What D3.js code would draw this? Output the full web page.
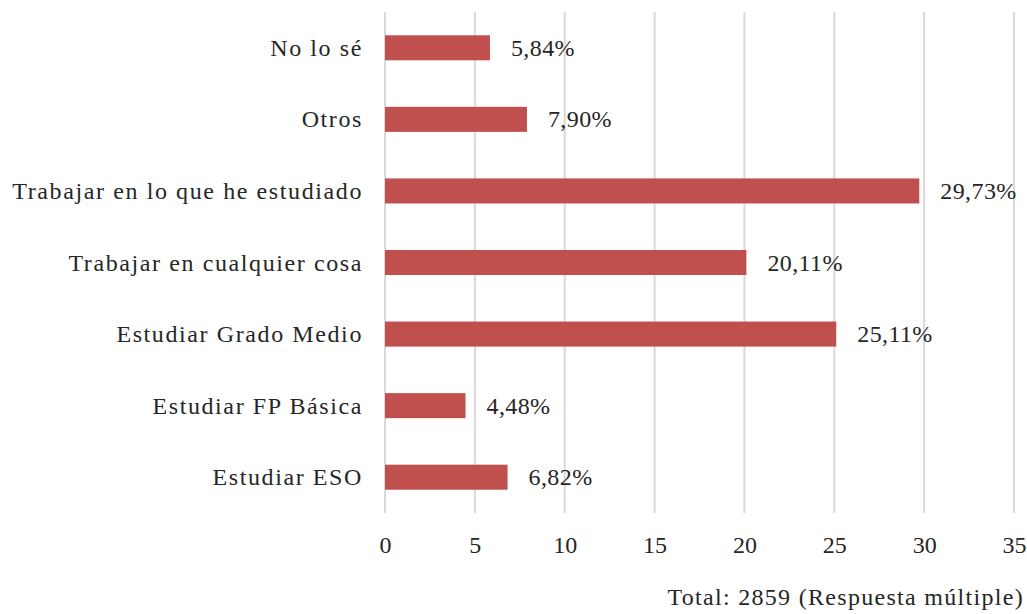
<!DOCTYPE html>
<html>
<head>
<meta charset="utf-8">
<script src="https://cdn.jsdelivr.net/npm/d3@7"></script>
<style>
  html, body { margin: 0; padding: 0; background: #fff; }
  svg { display: block; }
</style>
</head>
<body>
<svg id="chart" width="1027" height="614"></svg>
<script>
// Categories listed top to bottom
const categories = [
  "No lo sé",
  "Otros",
  "Trabajar en lo que he estudiado",
  "Trabajar en cualquier cosa",
  "Estudiar Grado Medio",
  "Estudiar FP Básica",
  "Estudiar ESO"
];
const values = [5.84, 7.90, 29.73, 20.11, 25.11, 4.48, 6.82];
const tickValues = [0, 5, 10, 15, 20, 25, 30, 35];
const footnote = "Total: 2859 (Respuesta múltiple)";

const FONT = "'Liberation Serif', 'DejaVu Serif', serif";
const FS = "24px";
const INK = "#262626";

const svg = d3.select("#chart");
const W = 1027;
const plot = { left: 385, right: 1014, top: 12, bottom: 513 };

const x = d3.scaleLinear().domain([0, 35]).range([plot.left, plot.right]);
const y = d3.scaleBand().domain(categories).range([plot.top, plot.bottom]).paddingInner(0.65).paddingOuter(0.325);

const fmt = v => v.toFixed(2).replace(".", ",") + "%";
const styleText = (sel, spacing = 0) => sel
  .attr("font-family", FONT)
  .style("font-family", FONT)
  .style("font-size", FS)
  .style("letter-spacing", spacing + "px")
  .style("fill", INK);

// vertical gridlines
svg.append("g")
  .selectAll("line")
  .data(tickValues)
  .join("line")
  .attr("x1", d => x(d)).attr("x2", d => x(d))
  .attr("y1", plot.top).attr("y2", plot.bottom)
  .attr("stroke", "#d9d9d9")
  .attr("stroke-width", 2);

// x axis labels
const xAxis = d3.axisBottom(x).tickValues(tickValues).tickSize(0).tickPadding(0).tickFormat(d3.format("d"));
const gx = svg.append("g").attr("transform", `translate(0,${plot.bottom})`).call(xAxis);
gx.select(".domain").remove();
gx.attr("font-family", FONT);
gx.selectAll("text").attr("dy", 0).attr("y", 40).call(styleText, 0);

// category labels
const yAxis = d3.axisLeft(y).tickSize(0).tickPadding(0);
const gy = svg.append("g").attr("transform", `translate(${plot.left - 22},0)`).call(yAxis);
gy.select(".domain").remove();
gy.attr("font-family", FONT);
gy.selectAll("text").attr("dy", 0).attr("y", 8).call(styleText, 1.6);

// bars
svg.append("g")
  .selectAll("rect")
  .data(values)
  .join("rect")
  .attr("x", x(0))
  .attr("y", (d, i) => y(categories[i]))
  .attr("width", d => x(d) - x(0))
  .attr("height", y.bandwidth())
  .attr("fill", "#c0504d");

// value labels
svg.append("g")
  .selectAll("text")
  .data(values)
  .join("text")
  .attr("x", d => x(d) + 21)
  .attr("y", (d, i) => y(categories[i]) + y.bandwidth() / 2 + 8)
  .call(styleText, 0.4)
  .text(fmt);

// footnote
svg.append("text")
  .attr("x", W - 3)
  .attr("y", 605)
  .attr("text-anchor", "end")
  .call(styleText, 1.3)
  .text(footnote);
</script>
</body>
</html>
